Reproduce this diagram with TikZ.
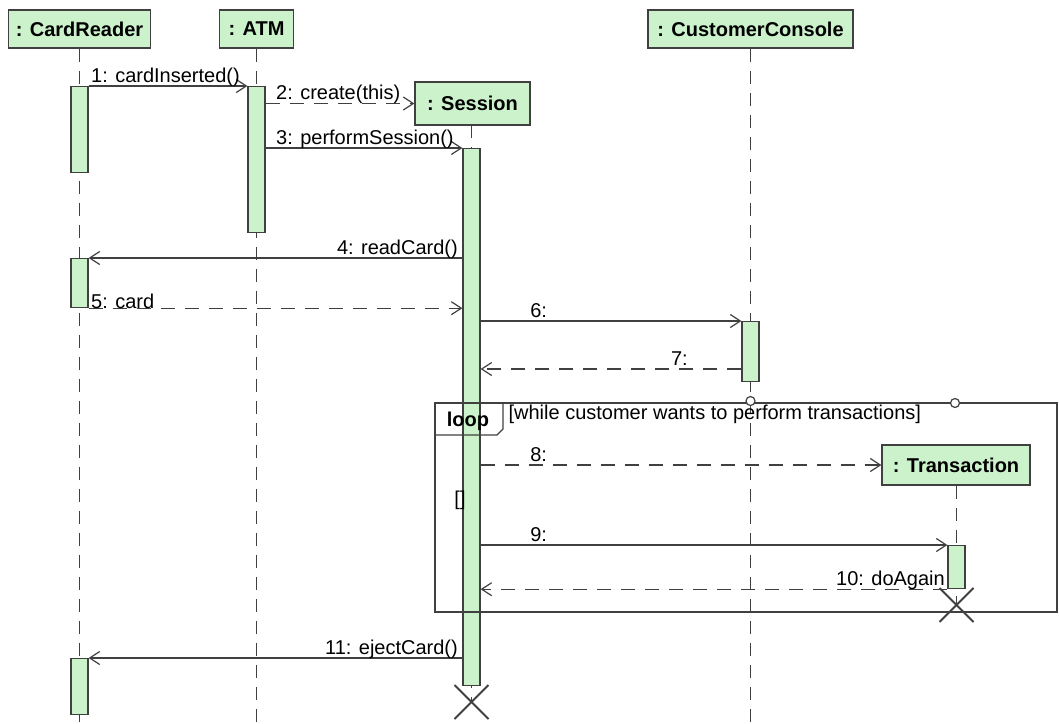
\documentclass[tikz,border=0pt]{standalone}
\usepackage{fontspec}
\setmainfont{Liberation Sans}
\usetikzlibrary{arrows.meta}
\definecolor{umlfill}{RGB}{204,242,204}
\definecolor{umlline}{RGB}{64,64,64}

\begin{document}
\begin{tikzpicture}
  [x=0.5pt, y=-0.5pt, line width=0.6pt,
   obj/.style={draw=umlline, fill=umlfill, font=\bfseries, inner sep=0pt},
   act/.style={draw=umlline, fill=umlfill, anchor=north, minimum width=8.5pt, inner sep=0pt},
   life/.style={draw=umlline, dash pattern=on 6.5pt off 4.5pt},
   msg/.style={draw=umlline, -{Straight Barb[length=5pt, width=6.5pt]}},
   reply/.style={msg, dash pattern=on 7pt off 5pt},
   lbl/.style={inner sep=0pt, yshift=2pt},
   kill/.style={draw=umlline, line width=1pt},
   handle/.style={circle, draw=umlline, fill=white, inner sep=0pt, minimum size=4.5pt}]
\useasboundingbox (0,0) rectangle (1059,723);
\coordinate (bot) at (0,723);
\coordinate (m7) at (0,369);
\coordinate (sessX) at (471.5,702);
\coordinate (trX) at (956.5,605);

\node[obj, minimum width=71pt, minimum height=19pt] (cr) at (79.5,29) {: CardReader};
\node[obj, minimum width=37pt, minimum height=19pt] (atm) at (256.5,29) {: ATM};
\node[obj, minimum width=102.5pt, minimum height=19pt] (cc) at (750.5,29) {: CustomerConsole};
\node[obj, minimum width=57.5pt, minimum height=21.5pt] (sess) at (472.5,103.5) {: Session};
\node[obj, minimum width=74pt, minimum height=20pt] (tr) at (956,465) {: Transaction};

\draw[life] (cr.south) -- (cr.south |- bot);
\draw[life] (atm.south) -- (atm.south |- bot);
\draw[life] (cc.south) -- (cc.south |- bot);
\draw[life] (471.5,125) -- (sessX);
\draw[life] (tr.south -| trX) -- (trX);

\node[act, minimum height=43pt] (crA1) at (79.5,86) {};
\node[act, minimum height=24.5pt] (crA2) at (79.5,258) {};
\node[act, minimum height=28pt] (crA3) at (79.5,658) {};
\node[act, minimum height=73pt] (atmA1) at (256.5,86) {};
\node[act, minimum height=268.5pt] (sessA) at (471.5,148) {};
\node[act, minimum height=30pt] (ccA) at (750.5,321) {};
\node[act, minimum height=21.5pt] (trA) at (956.5,545) {};

\draw[msg] (crA1.north east) -- (atmA1.north west)
  node[lbl, at start, anchor=base west, xshift=1pt] {1: cardInserted()};
\draw[reply] (atmA1.east |- sess.west) -- (sess.west)
  node[lbl, at start, anchor=base west, xshift=5pt] {2: create(this)};
\draw[msg] (atmA1.east |- sessA.north) -- (sessA.north west)
  node[lbl, at start, anchor=base west, xshift=5pt] {3: performSession()};
\draw[msg] (sessA.west |- crA2.north) -- (crA2.north east)
  node[lbl, at start, anchor=base east, xshift=-2pt] {4: readCard()};
\draw[reply] (crA2.south east) -- (sessA.west |- crA2.south)
  node[lbl, at start, anchor=base west, xshift=1pt, yshift=-2pt] {5: card};
\draw[msg] (sessA.east |- ccA.north) -- (ccA.north west)
  node[lbl, at start, anchor=base, xshift=29pt] {6:};
\draw[reply] (ccA.west |- m7) -- (sessA.east |- m7)
  node[lbl, at start, anchor=base, xshift=-31pt] {7:};
\draw[reply] (sessA.east |- tr.west) -- (tr.west)
  node[lbl, at start, anchor=base, xshift=29pt] {8:};
\draw[msg] (sessA.east |- trA.north) -- (trA.north west)
  node[lbl, at start, anchor=base, xshift=29pt] {9:};
\draw[reply] (trA.south west) -- (sessA.east |- trA.south)
  node[lbl, at start, anchor=base east, xshift=-1pt] {10: doAgain};
\draw[msg] (sessA.west |- crA3.north) -- (crA3.north east)
  node[lbl, at start, anchor=base east, xshift=-2pt] {11: ejectCard()};

\draw[draw=umlline] (435,403) rectangle (1057,612);
\draw[draw=umlline] (435,435) -- (497,435) -- (503,429) -- (503,403);
\node[font=\bfseries] (looptag) at (468,421) {loop};
\node[inner sep=0pt, anchor=north west] (guard) at (508,404) {[while customer wants to perform transactions]};
\node (opnd) at (460,500) {[]};
\node[handle] (h1) at (750.5,401) {};
\node[handle] (h2) at (955,403) {};

\draw[kill] ([shift={(-17,-17)}]sessX) -- ([shift={(17,17)}]sessX);
\draw[kill] ([shift={(17,-17)}]sessX) -- ([shift={(-17,17)}]sessX);
\draw[kill] ([shift={(-17,-17)}]trX) -- ([shift={(17,17)}]trX);
\draw[kill] ([shift={(17,-17)}]trX) -- ([shift={(-17,17)}]trX);
\end{tikzpicture}
\end{document}
